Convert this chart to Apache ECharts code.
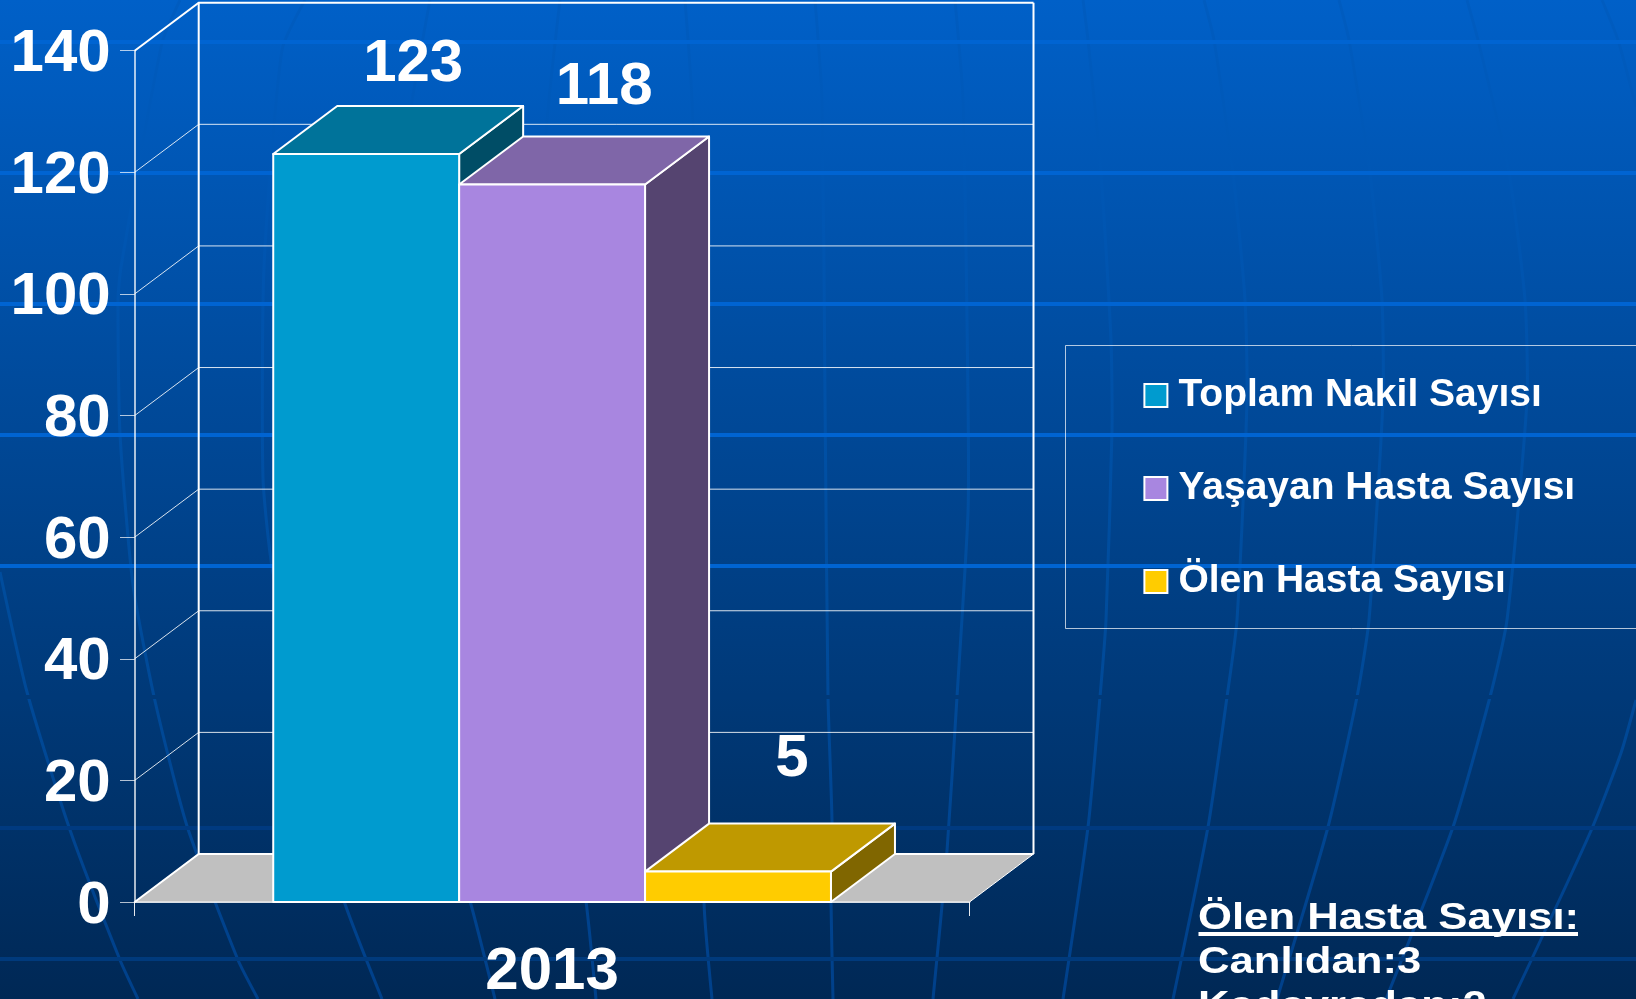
<!DOCTYPE html>
<html>
<head>
<meta charset="utf-8">
<title>Nakil Sayısı 2013</title>
<style>
  html, body { margin: 0; padding: 0; background: #002855; }
  #myChart { width: 1636px; height: 999px; }
</style>
</head>
<body>
<div id="myChart"></div>
<script src="https://cdn.jsdelivr.net/npm/echarts@6/dist/echarts.min.js"></script>
<script>
const categories = ['2013']
const seriesNames = ['Toplam Nakil Sayısı', 'Yaşayan Hasta Sayısı', 'Ölen Hasta Sayısı']
const totalTransplants = [123]
const livingPatients = [118]
const deadPatients = [5]
const yTicks = [0, 20, 40, 60, 80, 100, 120, 140]
const noteLines = ['Ölen Hasta Sayısı:', 'Canlıdan:3', 'Kadavradan:2']

const FONT = '"Liberation Sans", Arial, sans-serif'
const DEPTH_X = 64
const DEPTH_Y = -48

// front, top, side colours of each bar
const barColors = [
  ['#009BCF', '#00739A', '#004D66'],
  ['#A886E0', '#7F66A8', '#554470'],
  ['#FFCC00', '#BF9900', '#806600']
]
// where each value label sits, relative to the back edge of the bar top
const labelOffsets = [[-17, -42], [-12, -49], [-10, -64]]

// slide background: lines of latitude and longitude
const latitudes = [
  [42, '#0064D2'], [173, '#0064D2'], [304, '#0064D2'], [435, '#0064D2'], [566, '#0064D2'],
  [697, '#003978'], [828, '#003A80'], [959, '#003A7C']
]
const meridians = [
  [[0, 572], [27, 692], [70, 830], [120, 960], [138, 999]],
  [[180, 0], [162, 43], [121, 267], [118, 300], [120, 434], [133, 585], [155, 701], [187, 826], [238, 960], [258, 999]],
  [[305, 0], [282, 50], [264, 267], [263, 478], [272, 567], [300, 701], [325, 826], [344, 901], [382, 999]],
  [[430, 0], [405, 150], [395, 400], [410, 700], [470, 901], [495, 999]],
  [[560, 0], [545, 150], [545, 500], [570, 800], [586, 901], [596, 999]],
  [[685, 0], [692, 100], [705, 500], [704, 901], [712, 999]],
  [[815, 0], [822, 100], [825, 398], [828, 697], [832, 821], [831, 901], [833, 999]],
  [[955, 0], [963, 100], [968, 398], [968, 513], [957, 697], [947, 851], [933, 999]],
  [[1083, 0], [1088, 40], [1101, 173], [1111, 340], [1112, 430], [1106, 620], [1100, 697], [1088, 827], [1063, 999]],
  [[1204, 0], [1214, 40], [1233, 173], [1245, 300], [1247, 400], [1237, 620], [1227, 697], [1208, 827], [1173, 999]],
  [[1339, 0], [1349, 40], [1370, 173], [1382, 300], [1383, 400], [1369, 620], [1357, 697], [1328, 827], [1277, 999]],
  [[1467, 0], [1478, 40], [1509, 173], [1525, 300], [1527, 400], [1507, 620], [1490, 697], [1453, 827], [1386, 999]],
  [[1602, 0], [1618, 40], [1636, 107]],
  [[1636, 700], [1621, 753], [1590, 833], [1513, 999]]
]

const chart = echarts.init(document.getElementById('myChart'))

const meridianStroke = {
  type: 'linear', x: 0, y: 0, x2: 0, y2: 999, global: true,
  colorStops: [
    { offset: 0, color: '#005CC0' },
    { offset: 0.35, color: '#0052AA' },
    { offset: 0.6, color: '#004C9C' },
    { offset: 1, color: '#00408A' }
  ]
}

const backgroundGraphic = [
  ...meridians.map(points => ({
    type: 'polyline',
    z: 0,
    silent: true,
    shape: { points: points, smooth: 0.2 },
    style: { stroke: meridianStroke, lineWidth: 3, fill: null }
  })),
  ...latitudes.map(([y, color]) => ({
    type: 'rect',
    z: 1,
    silent: true,
    shape: { x: 0, y: y - 2, width: 1636, height: 4 },
    style: { fill: color }
  }))
]

// legend frame and the note at the bottom right
const legendFrame = {
  type: 'rect',
  z: 2,
  silent: true,
  shape: { x: 1065.5, y: 345.5, width: 700, height: 283 },
  style: { fill: null, stroke: 'rgba(255,255,255,0.7)', lineWidth: 1 }
}
const noteGraphic = noteLines.map((line, i) => ({
  type: 'text',
  z: 20,
  silent: true,
  x: 1198,
  y: 901.5 + i * 44,
  scaleX: 1.213,
  style: { text: line, font: 'bold 36px ' + FONT, fill: '#fff', verticalAlign: 'top' }
}))
const noteUnderline = {
  type: 'rect',
  z: 20,
  silent: true,
  shape: { x: 1198.5, y: 932, width: 379.5, height: 4 },
  style: { fill: '#fff' }
}

function renderWall(params, api) {
  const rect = params.coordSys
  const value = api.value(0)
  const y = api.coord([0, value])[1]
  const left = rect.x
  const right = rect.x + rect.width
  const thin = { stroke: 'rgba(255,255,255,0.85)', lineWidth: 1, fill: null }
  const thick = { stroke: '#fff', lineWidth: 2, fill: null }
  const children = []
  if (value === 0) {
    children.push({
      type: 'polygon',
      shape: { points: [[left, y], [left + DEPTH_X, y + DEPTH_Y], [right + DEPTH_X, y + DEPTH_Y], [right, y]] },
      style: { fill: '#C0C0C0', stroke: '#fff', lineWidth: 1 }
    })
  }
  children.push({
    type: 'polyline',
    shape: { points: [[left, y], [left + DEPTH_X, y + DEPTH_Y], [right + DEPTH_X, y + DEPTH_Y]] },
    style: value === 140 || value === 0 ? thick : thin
  })
  if (value === 140) {
    const y0 = api.coord([0, 0])[1]
    children.push({
      type: 'polyline',
      shape: { points: [[left + DEPTH_X, y + DEPTH_Y], [left + DEPTH_X, y0 + DEPTH_Y]] },
      style: thick
    }, {
      type: 'polyline',
      shape: { points: [[right + DEPTH_X, y + DEPTH_Y], [right + DEPTH_X, y0 + DEPTH_Y]] },
      style: thick
    })
  }
  return { type: 'group', children: children }
}

function makeBarRenderer(index) {
  return function (params, api) {
    const center = api.coord([api.value(0), 0])
    const top = api.coord([api.value(0), api.value(1)])
    const barWidth = api.size([1, 0])[0] * 0.2227
    const x0 = center[0] + (index - 1.5) * barWidth
    const x1 = x0 + barWidth
    const yTop = top[1]
    const yBase = center[1]
    const colors = barColors[index]
    const edge = { stroke: '#fff', lineWidth: 2, lineJoin: 'round' }
    return {
      type: 'group',
      children: [
        {
          type: 'polygon',
          shape: { points: [[x1, yBase], [x1 + DEPTH_X, yBase + DEPTH_Y], [x1 + DEPTH_X, yTop + DEPTH_Y], [x1, yTop]] },
          style: Object.assign({ fill: colors[2] }, edge)
        },
        {
          type: 'polygon',
          shape: { points: [[x0, yTop], [x0 + DEPTH_X, yTop + DEPTH_Y], [x1 + DEPTH_X, yTop + DEPTH_Y], [x1, yTop]] },
          style: Object.assign({ fill: colors[1] }, edge)
        },
        {
          type: 'rect',
          shape: { x: x0, y: yTop, width: barWidth, height: yBase - yTop },
          style: Object.assign({ fill: colors[0] }, edge)
        },
        {
          type: 'text',
          z2: 50,
          style: {
            x: (x0 + x1) / 2 + DEPTH_X + labelOffsets[index][0],
            y: yTop + DEPTH_Y + labelOffsets[index][1],
            text: String(api.value(1)),
            font: 'bold 60px ' + FONT,
            fill: '#fff',
            align: 'center',
            verticalAlign: 'middle'
          }
        }
      ]
    }
  }
}

const barValues = [totalTransplants, livingPatients, deadPatients]

const series = [
  {
    type: 'custom',
    silent: true,
    z: 4,
    clip: false,
    coordinateSystem: 'cartesian2d',
    renderItem: renderWall,
    encode: { y: 0 },
    data: yTicks.map(v => [v])
  }
].concat(barValues.map((values, index) => ({
  name: seriesNames[index],
  type: 'custom',
  z: 5 + index,
  clip: false,
  renderItem: makeBarRenderer(index),
  encode: { x: 0, y: 1 },
  itemStyle: { color: barColors[index][0] },
  data: values.map((v, i) => [i, v])
})))

chart.setOption({
  animation: false,
  backgroundColor: {
    type: 'linear', x: 0, y: 0, x2: 0, y2: 1,
    colorStops: [{ offset: 0, color: '#0060C8' }, { offset: 1, color: '#002855' }]
  },
  graphic: { elements: [...backgroundGraphic, legendFrame, ...noteGraphic, noteUnderline] },
  grid: { left: 134.7, top: 50.7, width: 834.8, height: 851.3, containLabel: false, outerBoundsMode: 'none' },
  legend: {
    orient: 'vertical',
    left: 1143.4,
    top: 376,
    padding: 0,
    itemWidth: 23,
    itemHeight: 23,
    itemGap: 54,
    icon: 'rect',
    selectedMode: false,
    z: 20,
    data: seriesNames.map((name, i) => ({
      name: name,
      icon: 'rect',
      itemStyle: { color: barColors[i][0], borderColor: '#fff', borderWidth: 2 }
    })),
    textStyle: { color: '#fff', fontFamily: FONT, fontWeight: 'bold', fontSize: 39, padding: [0, 0, 0, 6] }
  },
  xAxis: {
    type: 'category',
    data: categories,
    z: 3,
    axisLine: { lineStyle: { color: 'rgba(255,255,255,0.7)', width: 2 } },
    axisTick: { show: true, length: 14, lineStyle: { color: 'rgba(255,255,255,0.9)', width: 1 } },
    axisLabel: { color: '#fff', fontFamily: FONT, fontWeight: 'bold', fontSize: 60, margin: 40 }
  },
  yAxis: {
    type: 'value',
    min: 0,
    max: 140,
    interval: 20,
    z: 3,
    splitLine: { show: false },
    axisLine: { show: true, lineStyle: { color: 'rgba(255,255,255,0.9)', width: 1.5 } },
    axisTick: { show: true, length: 14.7, lineStyle: { color: 'rgba(255,255,255,0.7)', width: 1 } },
    axisLabel: { color: '#fff', fontFamily: FONT, fontWeight: 'bold', fontSize: 60, margin: 24, verticalAlign: 'top', lineHeight: 8 }
  },
  series: series
})
</script>
</body>
</html>
